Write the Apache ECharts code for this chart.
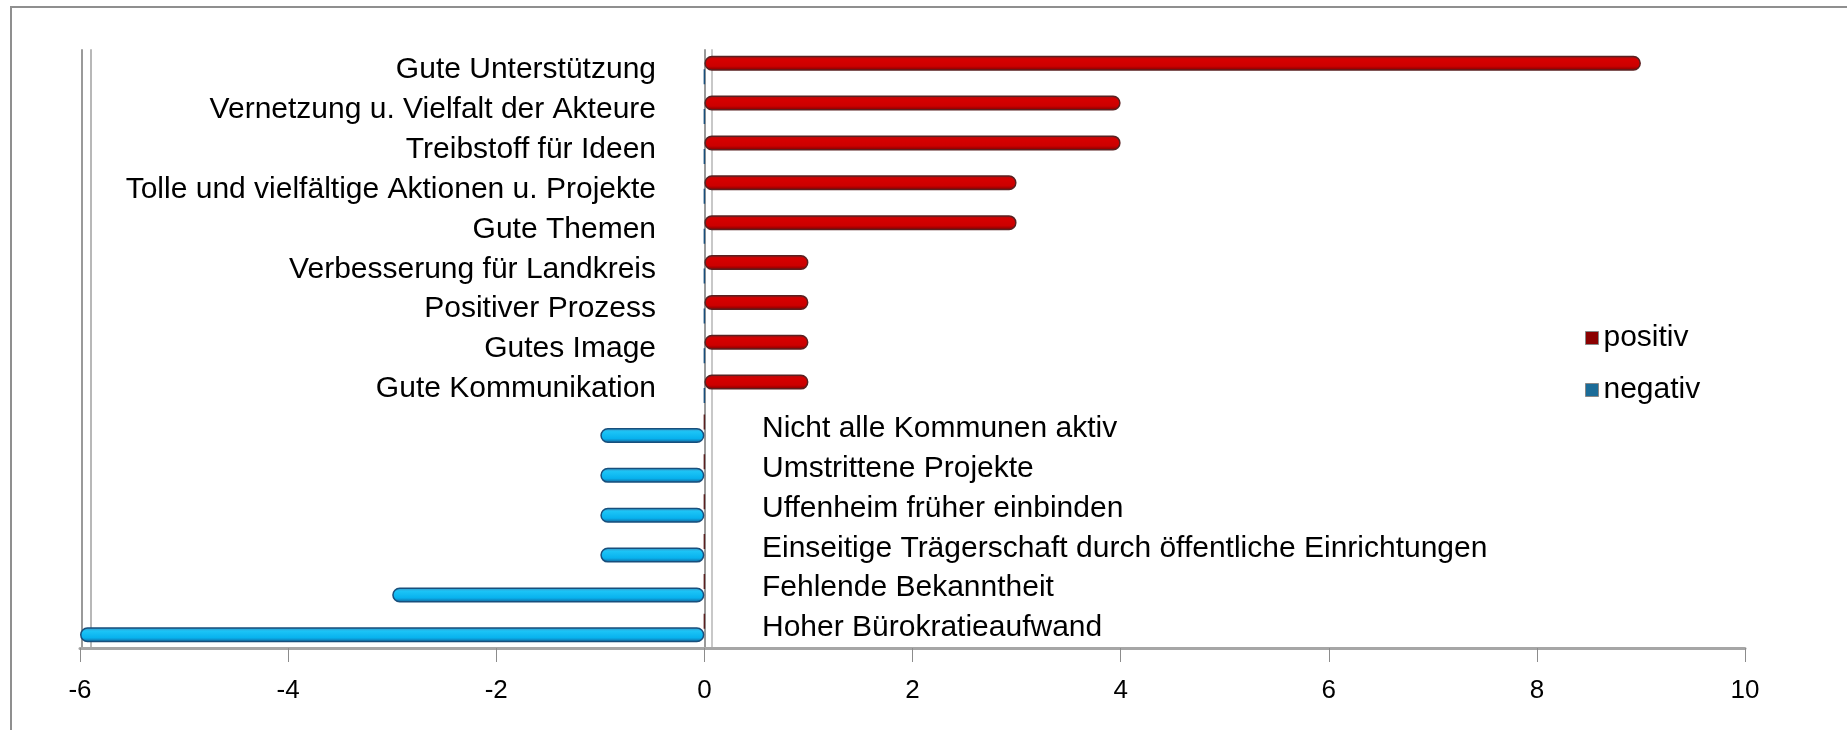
<!DOCTYPE html>
<html lang="de">
<head>
    <meta charset="UTF-8">
    <title>positiv / negativ</title>
    <script src="https://cdn.jsdelivr.net/npm/echarts@6/dist/echarts.min.js"></script>
    <style>
        html, body { margin: 0; padding: 0; background: #fff; }
    </style>
</head>
<body>

<div id="main" style="width: 1847px;height:730px;position:absolute;left:0;top:0"></div>

<script type="text/javascript">
    // Kategorien von oben nach unten
    var categories = [
        'Gute Unterstützung',
        'Vernetzung u. Vielfalt der Akteure',
        'Treibstoff für Ideen',
        'Tolle und vielfältige Aktionen u. Projekte',
        'Gute Themen',
        'Verbesserung für Landkreis',
        'Positiver Prozess',
        'Gutes Image',
        'Gute Kommunikation',
        'Nicht alle Kommunen aktiv',
        'Umstrittene Projekte',
        'Uffenheim früher einbinden',
        'Einseitige Trägerschaft durch öffentliche Einrichtungen',
        'Fehlende Bekanntheit',
        'Hoher Bürokratieaufwand'
    ];
    var positiv = [9, 4, 4, 3, 3, 1, 1, 1, 1, 0, 0, 0, 0, 0, 0];
    var negativ = [0, 0, 0, 0, 0, 0, 0, 0, 0, -1, -1, -1, -1, -3, -6];
    var xTicks = { min: -6, max: 10, interval: 2 };

    var myChart = echarts.init(document.getElementById('main'));

    var labelFont = 'Liberation Sans, Arial, sans-serif';

    var redFill = new echarts.graphic.LinearGradient(0, 0, 0, 1, [
        { offset: 0, color: '#a01414' },
        { offset: 0.25, color: '#d60000' },
        { offset: 0.7, color: '#cc0000' },
        { offset: 1, color: '#780000' }
    ]);
    var blueFill = new echarts.graphic.LinearGradient(0, 0, 0, 1, [
        { offset: 0, color: '#3a8fc0' },
        { offset: 0.25, color: '#1cc4f6' },
        { offset: 0.7, color: '#08b2ee' },
        { offset: 1, color: '#155f95' }
    ]);

    option = {
        backgroundColor: '#fff',
        animation: false,
        grid: {
            left: 80,
            right: 102,
            top: 50,
            bottom: 82,
            outerBoundsMode: 'none'
        },
        legend: {
            orient: 'vertical',
            left: 1580,
            top: 318,
            itemWidth: 13,
            itemHeight: 13,
            itemGap: 22,
            icon: 'rect',
            textStyle: { fontSize: 30, color: '#000', fontFamily: labelFont },
            data: [
                { name: 'positiv', itemStyle: { color: '#8b0000', borderColor: '#888', borderWidth: 1 } },
                { name: 'negativ', itemStyle: { color: '#1b6c98', borderColor: '#888', borderWidth: 1 } }
            ]
        },
        xAxis: {
            type: 'value',
            min: xTicks.min,
            max: xTicks.max,
            interval: xTicks.interval,
            splitLine: { show: false },
            axisLine: { show: true, lineStyle: { color: '#a6a6a6', width: 3 } },
            axisTick: { show: true, length: 14, lineStyle: { color: '#8c8c8c', width: 1 } },
            axisLabel: { color: '#000', fontSize: 26, margin: 30, fontFamily: labelFont }
        },
        yAxis: [{
            // Nullachse mit Beschriftung der positiven Nennungen
            type: 'category',
            data: categories,
            inverse: true,
            position: 'left',
            offset: -624,
            axisLine: { show: true, lineStyle: { color: '#9a9a9a', width: 2, shadowColor: '#c8c8c8', shadowOffsetX: 7 } },
            axisTick: { show: false },
            axisLabel: {
                margin: 48,
                fontSize: 30,
                color: '#000',
                fontFamily: labelFont,
                formatter: function (value, index) {
                    return positiv[index] > 0 ? value : '';
                }
            }
        }, {
            // Beschriftung der negativen Nennungen rechts der Nullachse
            type: 'category',
            data: categories,
            inverse: true,
            position: 'right',
            offset: -1041,
            axisLine: { show: false },
            axisTick: { show: false },
            axisLabel: {
                margin: 58,
                fontSize: 30,
                color: '#000',
                fontFamily: labelFont,
                formatter: function (value, index) {
                    return negativ[index] < 0 ? value : '';
                }
            }
        }, {
            // Rückwand links
            type: 'category',
            data: categories,
            inverse: true,
            position: 'left',
            offset: -2,
            axisLine: { show: true, lineStyle: { color: '#9a9a9a', width: 2, shadowColor: '#b8b8b8', shadowOffsetX: 9 } },
            axisTick: { show: false },
            axisLabel: { show: false }
        }],
        series: [{
            name: 'positiv',
            type: 'bar',
            data: positiv,
            barWidth: 15,
            barGap: '-10%',
            itemStyle: {
                color: redFill,
                borderColor: '#5a2020',
                borderWidth: 1.5,
                borderRadius: 7
            }
        }, {
            name: 'negativ',
            type: 'bar',
            data: negativ,
            barWidth: 15,
            barGap: '-10%',
            itemStyle: {
                color: blueFill,
                borderColor: '#184f7c',
                borderWidth: 1.5,
                borderRadius: 7
            }
        }],
        graphic: [{
            type: 'rect',
            silent: true,
            shape: { x: 11, y: 7, width: 1900, height: 800 },
            style: { fill: 'none', stroke: '#8f8f8f', lineWidth: 2 }
        }]
    };

    myChart.setOption(option);
</script>
</body>
</html>
